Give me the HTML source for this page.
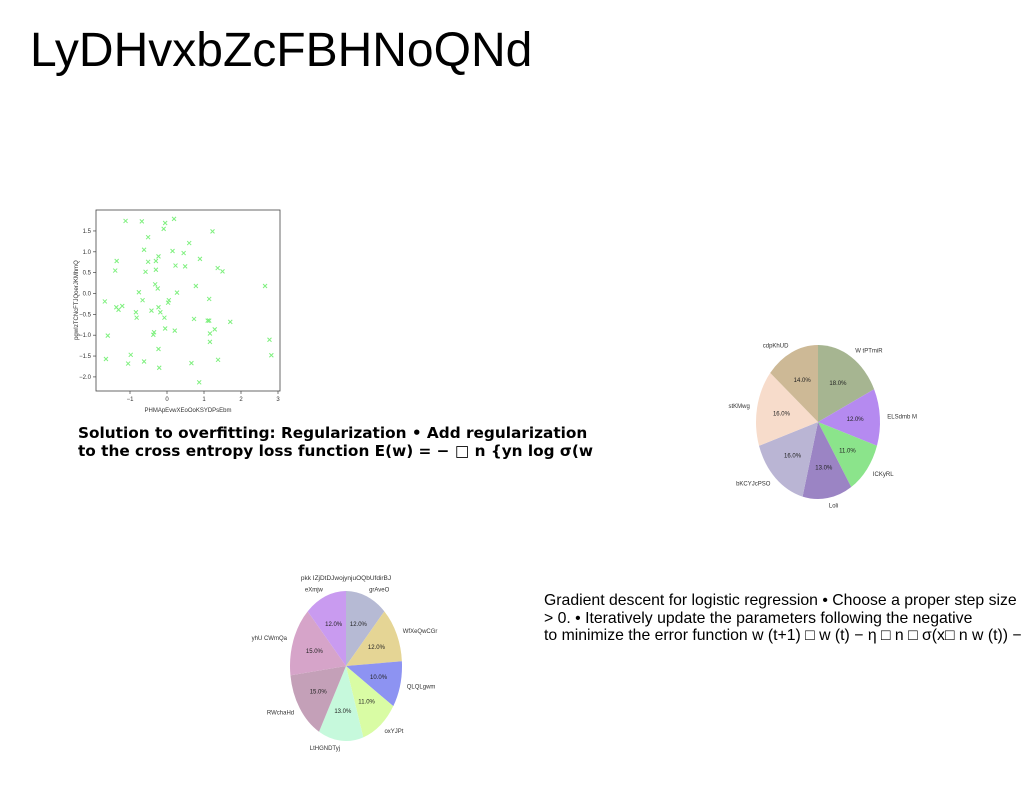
<!DOCTYPE html>
<html><head><meta charset="utf-8"><style>
body{margin:0;width:1024px;height:788px;background:#fff;position:relative;overflow:hidden;font-family:"Liberation Sans",sans-serif}
#title{position:absolute;left:30px;top:23px;font-size:48px;color:#000;white-space:nowrap}
#t1{position:absolute;left:78px;top:424px;font:bold 15.3px/18px "DejaVu Sans",sans-serif;white-space:nowrap}
#t2{position:absolute;left:544px;top:592px;font:15.8px/17.5px "Liberation Sans","DejaVu Sans",sans-serif;white-space:nowrap}
svg{position:absolute;left:0;top:0}
</style></head><body>
<div id="title">LyDHvxbZcFBHNoQNd</div>
<div id="t1">Solution to overfitting: Regularization • Add regularization<br>to the cross entropy loss function E(w) = − □ n {yn log σ(w</div>
<div id="t2">Gradient descent for logistic regression • Choose a proper step size<br>&gt; 0. • Iteratively update the parameters following the negative<br>to minimize the error function w (t+1) □ w (t) − η □ n □ σ(x□ n w (t)) −</div>
<svg id="scatter" width="1024" height="788"></svg>
<svg id="pies" width="1024" height="788"></svg>
<script>
const scatterX=[-1.12,-0.68,0.19,-0.05,-0.09,1.23,-0.51,0.60,-0.62,0.15,0.45,0.89,-1.36,-0.51,-0.30,-0.23,0.23,0.49,1.37,1.50,-1.40,-0.58,-0.30,-0.32,-0.25,0.78,2.65,-0.76,0.27,-1.68,-0.66,0.05,0.03,1.14,-1.37,-1.31,-1.21,-0.84,-0.82,-0.42,-0.23,-0.18,-0.07,0.73,1.10,1.14,1.71,1.29,-0.05,0.21,-0.35,-0.37,-1.60,1.16,1.16,2.77,-0.23,-0.98,2.82,-1.65,-0.62,1.38,-1.05,0.66,-0.21,0.87];
const scatterY=[1.74,1.73,1.79,1.69,1.55,1.49,1.35,1.21,1.05,1.02,0.97,0.83,0.78,0.76,0.78,0.89,0.67,0.65,0.61,0.53,0.55,0.52,0.57,0.22,0.12,0.18,0.18,0.03,0.02,-0.19,-0.16,-0.16,-0.22,-0.13,-0.33,-0.39,-0.30,-0.45,-0.58,-0.41,-0.33,-0.45,-0.58,-0.61,-0.65,-0.65,-0.68,-0.86,-0.84,-0.89,-0.93,-0.99,-1.01,-0.96,-1.16,-1.11,-1.33,-1.47,-1.48,-1.57,-1.63,-1.59,-1.68,-1.67,-1.78,-2.13];
const xTicks=[-1,0,1,2,3];
const xTickLabels=["−1","0","1","2","3"];
const yTicks=[1.5,1.0,0.5,0.0,-0.5,-1.0,-1.5,-2.0];
const yTickLabels=["1.5","1.0","0.5","0.0","−0.5","−1.0","−1.5","−2.0"];
const pie1Labels=["W tPTmiR","ELSdmb M","ICKyRL","Loli","bKCYJcPSO","stKMwg","cdpKhUD"];
const pie1Values=[18,12,11,13,16,16,14];
const pie1Colors=["#a6b591","#b58af0","#8be48b","#9b84c4","#bab5d4","#f7dccb","#cdb996"];
const pie2Labels=["grAveO","WfXeQwCGr","QLQLgwm","oxYJPt","LtHGNDTyj","RWchaHd","yhU CWmQa","eXmjw"];
const pie2Values=[12,12,10,11,13,15,15,12];
const pie2Colors=["#b6bad4","#e5d595","#8d93f2","#d9fca4","#c6f9dc","#c4a0b8","#d6a4c9","#c99bf0"];

const NS="http://www.w3.org/2000/svg";
function mk(p,tag,attrs){const e=document.createElementNS(NS,tag);for(const k in attrs)e.setAttribute(k,attrs[k]);p.appendChild(e);return e;}
const sv=document.getElementById('scatter');
const L=96,R=280,T=210,B=391;
const xs=v=>167+v*37, ys=v=>293.5-v*41.7;
const frame=mk(sv,'rect',{x:L,y:T,width:R-L,height:B-T,fill:'none',stroke:'#444','stroke-width':0.8});


xTicks.forEach((v,i)=>{const x=xs(v);
 mk(sv,'line',{x1:x,x2:x,y1:B,y2:B+3,stroke:'#444','stroke-width':0.7});
 const t=mk(sv,'text',{x:x,y:B+10,'font-size':6,'text-anchor':'middle',fill:'#333'});t.textContent=xTickLabels[i];
 
 });
yTicks.forEach((v,i)=>{const y=ys(v);
 mk(sv,'line',{x1:L-3,x2:L,y1:y,y2:y,stroke:'#444','stroke-width':0.7});
 const t=mk(sv,'text',{x:L-5,y:y+2,'font-size':6,'text-anchor':'end',fill:'#333'});t.textContent=yTickLabels[i];
 
 });
const xl=mk(sv,'text',{x:188,y:412,'font-size':6,'text-anchor':'middle',fill:'#333'});xl.textContent='PHMApEvwXEoOoKSYDPsEbm';


const yl=mk(sv,'text',{x:0,y:0,'font-size':6,'text-anchor':'middle',fill:'#333',transform:'translate(78,300) rotate(-90)'});yl.textContent='pgwIzTCNcFTJQoerJKMhmQ';


scatterX.forEach((xv,i)=>{const x=xs(xv),y=ys(scatterY[i]);
 const g=mk(sv,'path',{d:`M${x-2},${y-2}L${x+2},${y+2}M${x-2},${y+2}L${x+2},${y-2}`,stroke:'#7ef07e','stroke-width':1});
 
 });
const pv=document.getElementById('pies');
function pie(cx,cy,rx,ry,labels,values,colors,name){
 const tot=values.reduce((a,b)=>a+b,0);let a=0;
 values.forEach((v,i)=>{const a0=a,a1=a+v/tot*2*Math.PI;a=a1;
  const p=t=>[cx+rx*Math.sin(t),cy-ry*Math.cos(t)];
  const [x0,y0]=p(a0),[x1,y1]=p(a1);
  const s=mk(pv,'path',{d:`M${cx},${cy}L${x0},${y0}A${rx},${ry} 0 ${a1-a0>Math.PI?1:0} 1 ${x1},${y1}Z`,fill:colors[i]});
  
  
  const m=(a0+a1)/2,sn=Math.sin(m),cs=Math.cos(m);
  const pt=mk(pv,'text',{x:cx+0.6*rx*sn,y:cy-0.6*ry*cs+2,'font-size':6,'text-anchor':'middle',fill:'#222'});pt.textContent=v.toFixed(1)+'%';
  
  
  const lt=mk(pv,'text',{x:cx+1.12*rx*sn,y:cy-1.1*ry*cs+2,'font-size':6,'text-anchor':sn>0.05?'start':(sn<-0.05?'end':'middle'),fill:'#333'});lt.textContent=labels[i];
  
  
 });
}
pie(818,422,62,77,pie1Labels,pie1Values,pie1Colors,'pie1');
pie(346,666,56,75,pie2Labels,pie2Values,pie2Colors,'pie2');
const pt2=mk(pv,'text',{x:346,y:580,'font-size':6.5,'text-anchor':'middle',fill:'#333'});pt2.textContent='pkk IZjDtDJwojynjuOQbUfdirBJ';


</script>
</body></html>
